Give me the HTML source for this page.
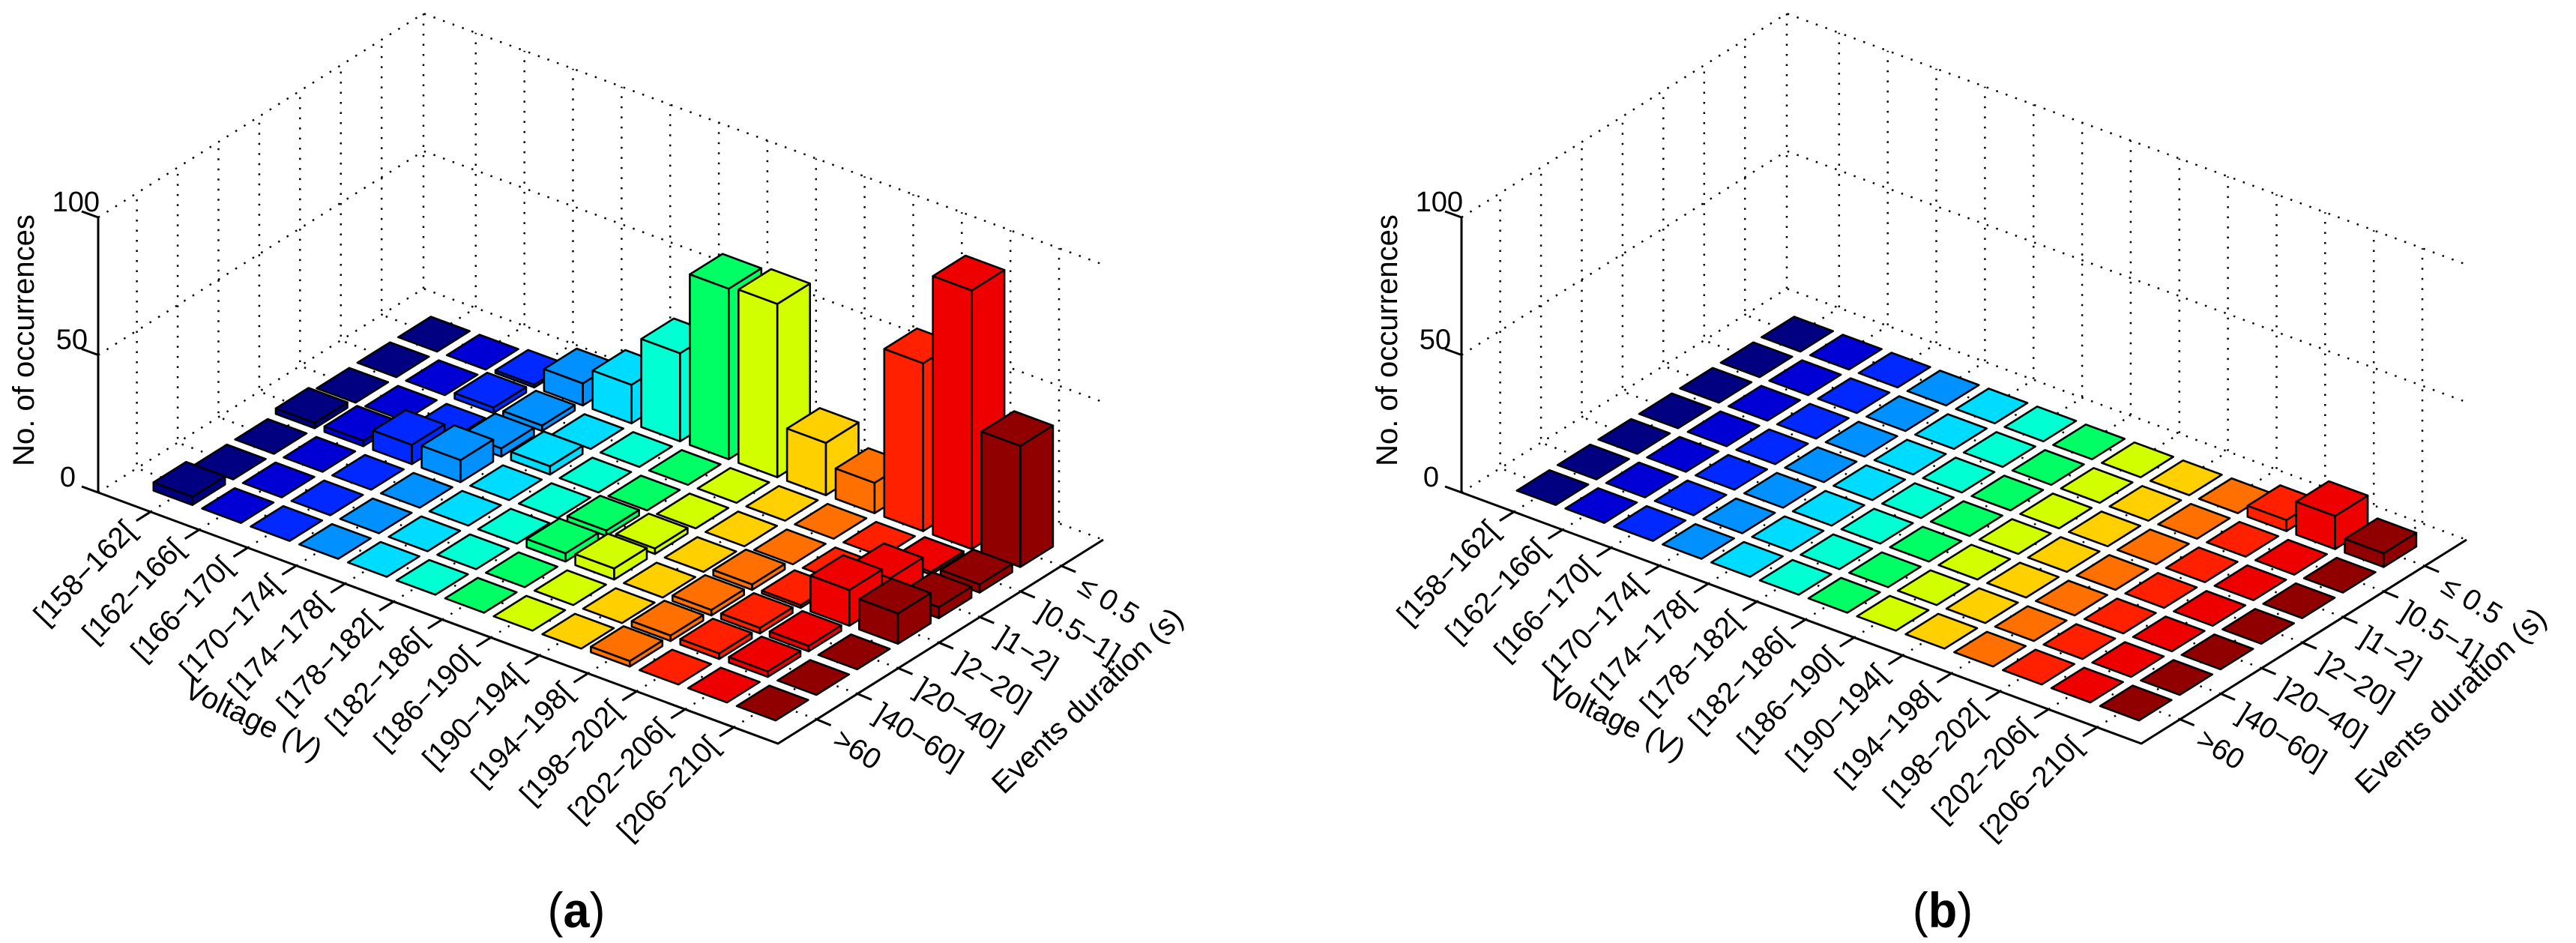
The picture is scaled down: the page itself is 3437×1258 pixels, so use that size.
<!DOCTYPE html>
<html>
<head>
<meta charset="utf-8">
<style>
  html,body{margin:0;padding:0;background:#fff;}
  svg{display:block;}
  text{font-family:"Liberation Sans",Arial,sans-serif;fill:#000;}
</style>
</head>
<body>
<svg id="chart" xmlns="http://www.w3.org/2000/svg" width="3437" height="1258" viewBox="0 0 3437 1258"></svg>
<script>
// ---- data ----
const voltageLabels = ["[158\u2212162[","[162\u2212166[","[166\u2212170[","[170\u2212174[","[174\u2212178[","[178\u2212182[","[182\u2212186[","[186\u2212190[","[190\u2212194[","[194\u2212198[","[198\u2212202[","[202\u2212206[","[206\u2212210["];
const durationLabels = ["\u2264 0.5","]0.5\u22121]","]1\u22122]","]2\u221220]","]20\u221240]","]40\u221260]",">60"];
const zTicks = [0, 50, 100];
// rows = duration (<=0.5 ... >60), columns = voltage classes
const heightsA = [
  [0,0,1,8,14,32,62,63,19,11,61,94,44],
  [0,0,2,2,0,0,0,0,0,0,0,1,3],
  [0,0,0,3,3,0,0,0,0,0,0,8,4],
  [2,2,7,8,0,0,2,2,0,2,1,13,11],
  [0,0,0,0,0,0,3,4,0,2,2,2,0],
  [0,0,0,0,0,0,0,0,0,2,2,2,0],
  [3,0,0,0,0,0,0,0,0,2,0,0,0]
];
const heightsB = [
  [0,0,0,0,0,0,0,0,0,0,4,12,5],
  [0,0,0,0,0,0,0,0,0,0,0,0,0],
  [0,0,0,0,0,0,0,0,0,0,0,0,0],
  [0,0,0,0,0,0,0,0,0,0,0,0,0],
  [0,0,0,0,0,0,0,0,0,0,0,0,0],
  [0,0,0,0,0,0,0,0,0,0,0,0,0],
  [0,0,0,0,0,0,0,0,0,0,0,0,0]
];
const colors = ["#000080","#0000d4","#0028ff","#0090ff","#00dcff","#00ffd2","#00ff64","#d2ff00","#ffd000","#ff7000","#ff2000","#ee0000","#900000"];
const zMax = 100;

const NS = "http://www.w3.org/2000/svg";
const svg = document.getElementById('chart');
function mk(tag, attrs, parent){
  const e = document.createElementNS(NS, tag);
  for (const k in attrs) e.setAttribute(k, attrs[k]);
  (parent||svg).appendChild(e);
  return e;
}
function txt(parent, x, y, rot, anchor, size, s){
  const t = mk('text', {x:0, y:0, 'font-size':size, 'text-anchor':anchor, 'dominant-baseline':'central',
    transform:'translate('+x.toFixed(1)+' '+y.toFixed(1)+') rotate('+rot+')'}, parent);
  t.textContent = s;
  return t;
}

// geometry
const EU = [907, 335], EV = [434, -272], ZPX = 367;
const U0 = 0.077, DU = 0.0715, V6 = 0.119, DV = 0.1254;
function uOf(i){ return U0 + DU*i; }
function vOf(j){ return V6 + DV*(durationLabels.length-1-j); }

function drawPanel(ox, oy, heights, name, caption, capX){
  const g = mk('g', {});
  
  
  const zs = ZPX / zMax;
  const P = (u,v,z) => [ox + u*EU[0] + v*EV[0], oy + u*EU[1] + v*EV[1] - z*zs];
  const pts = arr => arr.map(p => p[0].toFixed(1)+','+p[1].toFixed(1)).join(' ');
  const dot = {stroke:'#000','stroke-width':2.5,'stroke-dasharray':'2.5 11',fill:'none'};

  // grid
  const grid = mk('g', {}, g);
  
  
  zTicks.forEach(z => {
    const l = mk('polyline', Object.assign({points: pts([P(0,0,z),P(0,1,z),P(1,1,z)])}, dot), grid);
    
    
  });
  const bc = mk('polyline', Object.assign({points: pts([P(0,1,0),P(0,1,zMax)])}, dot), grid);
  
  
  voltageLabels.forEach((_, i) => {
    const u = uOf(i);
    const l = mk('polyline', Object.assign({points: pts([P(u,0,0),P(u,1,0),P(u,1,zMax)])}, dot), grid);
    
    
  });
  durationLabels.forEach((_, j) => {
    const v = vOf(j);
    const l = mk('polyline', Object.assign({points: pts([P(1,v,0),P(0,v,0),P(0,v,zMax)])}, dot), grid);
    
    
  });

  // axes
  const axA = {stroke:'#000','stroke-width':3,fill:'none'};
  const va = mk('polyline', Object.assign({points: pts([P(0,0,0),P(1,0,0),P(1,1,0)])}, axA), g);
  
  
  const za = mk('polyline', Object.assign({points: pts([P(0,0,0),P(0,0,zMax)])}, axA), g);
  
  

  // z ticks
  zTicks.forEach(z => {
    const a = P(0,0,z);
    const t = mk('line', {x1:a[0],y1:a[1],x2:a[0]-22,y2:a[1]-8,stroke:'#000','stroke-width':3}, g);
    
    
    const tx = txt(g, a[0]-30+z*0.32, a[1]-20, 0, 'end', 38, String(z));
    
    
  });
  // voltage ticks
  voltageLabels.forEach((lab, i) => {
    const a = P(uOf(i),0,0);
    const t = mk('line', {x1:a[0],y1:a[1],x2:a[0]-19,y2:a[1]+12,stroke:'#000','stroke-width':3}, g);
    
    
    const tx = txt(g, a[0]-27, a[1]+19, -46, 'end', 39, lab);
    
    
  });
  // duration ticks
  durationLabels.forEach((lab, j) => {
    const a = P(1,vOf(j),0);
    const t = mk('line', {x1:a[0],y1:a[1],x2:a[0]+19,y2:a[1]+8,stroke:'#000','stroke-width':3}, g);
    
    
    const tx = txt(g, a[0]+26, a[1]+23, 32, 'start', 39, lab);
    
    
  });

  // bars
  const cells = [];
  heights.forEach((row, j) => row.forEach((h, i) => cells.push({i, j, h})));
  cells.sort((a, b) => (EU[1]*uOf(a.i) + EV[1]*vOf(a.j)) - (EU[1]*uOf(b.i) + EV[1]*vOf(b.j)));
  const bars = mk('g', {}, g);
  
  
  const st = {stroke:'#000','stroke-width':2.6,'stroke-linejoin':'round'};
  cells.forEach(c => {
    const uc = uOf(c.i), vc = vOf(c.j), hu = 0.4*DU, hv = 0.4*DV;
    const u0 = uc-hu, u1 = uc+hu, v0 = vc-hv, v1 = vc+hv, h = c.h;
    const col = colors[c.i];
    const bg = mk('g', {}, bars);
    
    
    if (h > 0) {
      mk('polygon', Object.assign({points: pts([P(u0,v0,0),P(u1,v0,0),P(u1,v0,h),P(u0,v0,h)]), fill: col}, st), bg);
      mk('polygon', Object.assign({points: pts([P(u1,v0,0),P(u1,v1,0),P(u1,v1,h),P(u1,v0,h)]), fill: col}, st), bg);
    }
    mk('polygon', Object.assign({points: pts([P(u0,v0,h),P(u1,v0,h),P(u1,v1,h),P(u0,v1,h)]), fill: col}, st), bg);
  });

  // axis titles
  const yt = txt(g, ox-99, oy-203, -90, 'middle', 40, 'No. of occurrences');
  
  
  const vt = txt(g, ox+207, oy+303, 26, 'middle', 40, 'Voltage (V)');
  
  
  const dt = txt(g, ox+1320, oy+278, -44, 'middle', 40, 'Events duration (s)');
  
  

  const cap = mk('text', {x:0, y:0, 'font-size':60, 'text-anchor':'middle', 'font-family':'"Liberation Serif",serif',
    transform:'translate('+capX+' 1237) scale(1.05 1.1)'}, g);
  cap.innerHTML = '(<tspan font-weight="bold">' + caption + '</tspan>)';
  
  
}

drawPanel(131, 657, heightsA, 'panel-a-chart', 'a', 769);
drawPanel(1950, 657, heightsB, 'panel-b-chart', 'b', 2592);
</script>
</body>
</html>
